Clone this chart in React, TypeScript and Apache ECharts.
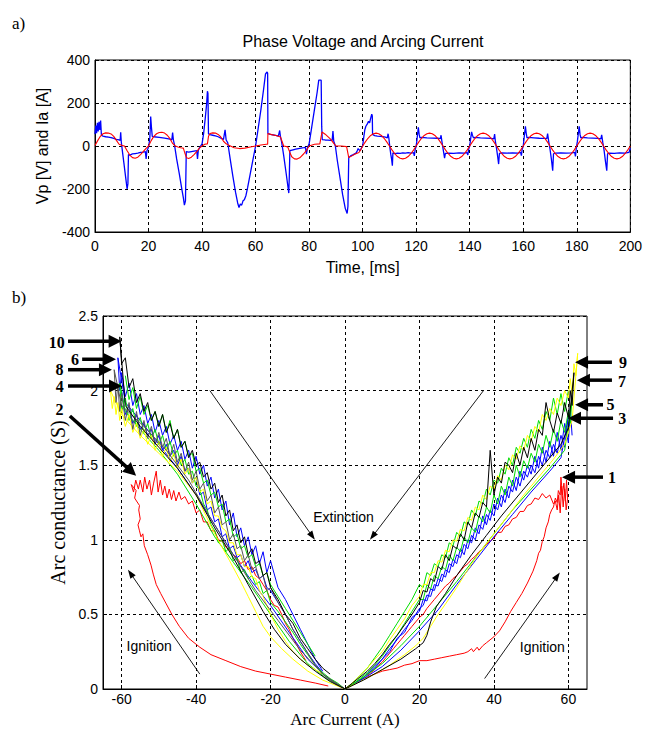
import React, { useEffect, useRef } from "react";
import * as echarts from "echarts";

// ---------------- Panel a) : phase voltage (blue) and arcing current (red) ----------------
const VOLTAGE: number[][] = [
  [0,55],[0.3,95],[0.6,60],[0.9,108],[1.2,68],[1.5,112],[1.8,75],[2.1,118],[2.4,50],[3,46],[4,43],[5,41],[6,39],[7,35],[8,31],[9,28],[9.4,26],[9.6,64],[9.8,22],[10.2,-20],[10.8,-80],[11.4,-140],[12,-200],[12.3,-175],[12.5,-40],[13,-42],[14,-37],[15,-35],[16,-33],[17,-30],[18,-28],[18.8,-26],[19.1,-60],[19.4,-22],[19.8,-12],
  [20.2,10],[20.5,40],[20.8,137],[21.1,85],[21.4,45],[22,43],[24,40],[26,37],[28,32],[28.7,29],[29,62],[29.3,27],[29.7,5],[30.5,-60],[31.5,-130],[32.5,-205],[33,-240],[33.4,-275],[33.8,-255],[34.1,-26],[35,-28],[36,-26],[37,-24],[38,-22],[38.3,-60],[38.6,-20],[39.2,-5],
  [40,10],[40.6,60],[41.2,130],[41.7,195],[42,255],[42.2,245],[42.4,56],[43,53],[44,50],[45,47],[46,43],[47,37],[48,31],[48.6,75],[49,28],[49.6,15],[50.5,-60],[51.5,-140],[52.5,-215],[53.3,-265],[53.8,-286],[54.3,-270],[54.8,-275],[55.3,-255],[55.8,-250],[56.4,-230],[57,-195],[58,-130],[59,-65],[60,0],
  [61,85],[62,170],[63,265],[63.7,335],[64.3,344],[64.5,338],[64.6,58],[65.5,54],[66.5,52],[67.5,49],[68.5,46],[69,72],[69.3,42],[69.7,20],[70.5,-45],[71.5,-135],[72.4,-219],[72.6,-140],[72.8,-22],[74,-18],[75,-15],[76,-12],[77,-10],[78,-8],[78.6,-6],[79,-38],[79.4,-8],
  [80,10],[81,90],[82,170],[83,250],[83.6,306],[84.5,306],[84.7,90],[84.9,30],[86,28],[87,27],[88,26],[88.6,26],[88.9,69],[89.2,22],[89.8,0],[90.5,-65],[91.5,-145],[92.5,-225],[93.5,-290],[94.2,-314],[94.5,-280],[94.8,-54],[95.5,-46],[96.5,-40],[97.5,-33],[97.9,-25],[98.3,-12],[99,-22],[99.6,-8],
  [100,0],[100.4,40],[100.8,75],[101.2,92],[101.8,104],[102.2,115],[102.6,108],[103,130],[103.4,148],[103.6,140],[103.7,54],[104.5,48],[105.5,46],[106.5,45],[107.5,44],[108.5,41],[109.2,38],[109.5,57],[109.8,35],[110.2,-10],[110.5,-38],[110.8,-60],[111.1,-92],[111.3,-32],[112,-35],[113,-33],[114,-34],[115,-32],[116,-33],[117,-31],[118,-33],[119,-31],[119.3,-46],[119.6,-18],
  [120,0],[120.3,30],[120.8,87],[121.1,55],[121.4,38],[122,40],[124,38],[126,37],[128,36],[129,34],[129.3,50],[129.6,22],[130,-10],[130.4,-40],[130.6,-56],[130.9,-34],[132,-33],[134,-34],[136,-32],[138,-33],[139,-31],[139.3,-42],[139.6,-15],
  [140,0],[140.3,30],[140.7,66],[141,50],[141.4,38],[142,40],[144,38],[146,37],[148,35],[149,33],[149.3,55],[149.6,20],[150,-10],[150.4,-45],[150.8,-84],[151.1,-34],[152,-32],[154,-33],[156,-32],[158,-33],[159,-30],[159.3,-45],[159.6,-15],
  [160,0],[160.3,35],[160.8,92],[161.1,60],[161.4,38],[162,40],[164,38],[166,36],[168,35],[168.8,34],[169.1,58],[169.5,22],[170,-15],[170.5,-60],[171,-115],[171.3,-36],[172,-33],[174,-32],[176,-33],[178,-32],[179.2,-30],[179.5,-48],[179.8,-12],
  [180.2,20],[180.5,50],[180.9,92],[181.2,55],[181.5,38],[182,40],[184,38],[186,37],[188,35],[189,33],[189.3,52],[189.7,18],[190.2,-20],[190.7,-70],[191.2,-115],[191.5,-36],[192,-33],[194,-34],[196,-32],[198,-33],[199.5,-30],[200,-10]
];

const CURRENT: number[][] = [
  [0,2],[1,25],[2,45],[3,57],[4,61],[5,60],[6,56],[7,45],[8,26],[9,8],[10,3],[11,0],[12,-22],[13,-42],[14,-54],[15,-57],[16,-52],[17,-40],[18,-26],[19,-12],
  [20,0],[21,25],[22,45],[23,57],[24,63],[25,64],[26,60],[27,50],[28,34],[29,12],[30,0],[31,-5],[32,-8],[33,-10],[33.5,-30],[34.2,-55],[35,-58],[36,-52],[37,-40],[38,-26],[39,-10],
  [40,0],[41,8],[42,10],[42.4,45],[43,58],[44,61],[45,60],[46,54],[47,42],[48,22],[49,10],[50,4],[52,-8],[54,-12],[56,-10],[58,-5],
  [60,0],[62,5],[64,8],[64.5,8],[64.6,58],[66,53],[68,48],[69.3,42],[70.5,0],[72,-4],[72.8,-30],[73.5,-50],[74.5,-60],[75.5,-61],[76.5,-55],[78,-36],[79,-20],
  [80,0],[82,8],[84,10],[84.8,65],[86,55],[88,32],[89.2,12],[90,0],[92,0],[94,-3],[94.8,-54],[96,-46],[97,-38],[98.6,-30],[99.3,-18],
  [100,0],[101,19],[102,36],[103,49],[104,57],[105,60],[106,57],[107,49],[108,36],[109,19],[110,0],[111,-19],[112,-36],[113,-49],[114,-57],[115,-60],[116,-57],[117,-49],[118,-36],[119,-19],
  [120,0],[121,19],[122,36],[123,49],[124,57],[125,60],[126,57],[127,49],[128,36],[129,19],[130,0],[131,-19],[132,-36],[133,-49],[134,-57],[135,-60],[136,-57],[137,-49],[138,-36],[139,-19],
  [140,0],[141,19],[142,36],[143,49],[144,57],[145,60],[146,57],[147,49],[148,36],[149,19],[150,0],[151,-19],[152,-36],[153,-49],[154,-57],[155,-60],[156,-57],[157,-49],[158,-36],[159,-19],
  [160,0],[161,19],[162,36],[163,49],[164,57],[165,60],[166,57],[167,49],[168,36],[169,19],[170,0],[171,-19],[172,-36],[173,-49],[174,-57],[175,-60],[176,-57],[177,-49],[178,-36],[179,-19],
  [180,0],[181,19],[182,36],[183,49],[184,57],[185,60],[186,57],[187,49],[188,36],[189,19],[190,0],[191,-19],[192,-36],[193,-49],[194,-57],[195,-60],[196,-57],[197,-49],[198,-36],[199,-19],[200,0]
];

// ---------------- Panel b) : arc conductance vs arc current ----------------
const BOTTOM_X_TICKS = [-60, -40, -20, 0, 20, 40, 60];

// current grid for the extinction branches (positive half)
const XR = [63,62.5,62,61.5,61,60.5,60,59,58,57,56,55,54,53,52,51,50,49,48,47,46,45,44,43,42,41,40,39,38,37,36,35,34,33,32,31,30,29,28,27,26,25,24,23,22,21,20,18,16,14,12,10,8,6,4,2,0];
// current grid for the extinction branches (negative half)
const XL = [-63,-62.5,-62,-61.5,-61,-60.5,-60,-59,-58,-57,-56,-55,-54,-53,-52,-51,-50,-49,-48,-47,-46,-45,-44,-43,-42,-41,-40,-39,-38,-37,-36,-35,-34,-33,-32,-31,-30,-29,-28,-27,-26,-25,-24,-23,-22,-21,-20,-18,-16,-14,-12,-10,-8,-6,-4,-2,0];

const R_YELLOW = [null,2.25,2.1,2.18,1.98,2.08,1.95,2.0,1.9,1.95,1.84,1.88,1.8,1.84,1.72,1.76,1.66,1.7,1.6,1.63,1.54,1.57,1.47,1.5,1.4,1.43,1.34,1.36,1.27,1.3,1.2,1.22,1.13,1.15,1.06,1.07,0.99,1.0,0.92,0.93,0.85,0.86,0.78,0.78,0.7,0.7,0.62,0.56,0.47,0.4,0.33,0.25,0.2,0.14,0.09,0.04,0];
const R_BLACK = [null,null,null,2.12,1.9,2.0,1.82,1.92,1.78,1.85,1.72,1.8,1.92,1.7,1.74,1.6,1.68,1.55,1.62,1.5,1.58,1.45,1.5,1.52,1.38,1.42,1.3,1.6,1.22,1.25,1.15,1.18,1.08,1.12,1.0,1.04,0.94,0.96,0.86,0.9,0.8,0.82,0.72,0.74,0.65,0.66,0.58,0.5,0.43,0.36,0.3,0.23,0.17,0.12,0.08,0.04,0];
const R_GREEN = [null,null,null,null,1.95,1.78,1.86,1.72,1.8,1.66,1.74,1.62,1.7,1.58,1.64,1.52,1.58,1.48,1.53,1.42,1.5,1.36,1.42,1.3,1.36,1.24,1.3,1.18,1.22,1.12,1.16,1.05,1.08,0.98,1.02,0.92,0.95,0.86,0.9,0.8,0.82,0.74,0.76,0.67,0.7,0.6,0.6,0.52,0.44,0.36,0.29,0.22,0.16,0.11,0.07,0.03,0];
const R_GREEN2 = [null,null,null,null,null,null,2.0,1.86,1.98,1.84,1.95,1.8,1.86,1.74,1.8,1.68,1.74,1.62,1.68,1.58,1.62,1.5,1.55,1.44,1.48,1.38,1.4,1.3,1.34,1.24,1.26,1.16,1.2,1.1,1.12,1.02,1.05,0.96,0.98,0.88,0.9,0.82,0.84,0.76,0.78,0.68,0.7,0.6,0.52,0.44,0.36,0.28,0.21,0.14,0.09,0.04,0];
const R_BLUE = [null,null,null,null,null,null,1.83,1.62,1.7,1.58,1.64,1.55,1.6,1.5,1.56,1.45,1.5,1.42,1.46,1.36,1.42,1.32,1.36,1.25,1.3,1.2,1.24,1.13,1.17,1.07,1.1,1.0,1.03,0.94,0.97,0.88,0.9,0.82,0.84,0.75,0.77,0.69,0.7,0.62,0.63,0.56,0.54,0.46,0.4,0.33,0.27,0.2,0.15,0.1,0.06,0.03,0];
const R_BLUE2 = [null,null,null,null,1.7,1.88,1.65,1.78,1.6,1.72,1.56,1.66,1.52,1.62,1.48,1.56,1.44,1.5,1.4,1.46,1.33,1.4,1.28,1.34,1.22,1.28,1.16,1.2,1.1,1.16,1.04,1.08,0.98,1.0,0.9,0.94,0.84,0.87,0.78,0.8,0.72,0.74,0.66,0.67,0.59,0.6,0.52,0.48,0.38,0.34,0.25,0.2,0.14,0.1,0.05,0.03,0];

const L_BLACK = [null,null,null,null,null,2.36,2.18,2.22,2.02,2.08,1.92,1.98,1.86,1.92,1.8,1.86,1.76,1.84,1.72,1.78,1.68,1.74,1.62,1.66,1.55,1.6,1.5,1.52,1.42,1.45,1.34,1.38,1.25,1.3,1.16,1.2,1.06,1.1,0.98,1.02,0.9,0.94,0.84,0.86,0.76,0.78,0.68,0.6,0.5,0.44,0.34,0.27,0.2,0.14,0.1,null,null];
const L_BLUE = [null,null,null,null,2.22,2.0,2.12,1.96,2.05,1.9,1.98,1.84,1.9,1.78,1.84,1.72,1.8,1.7,1.76,1.64,1.7,1.6,1.66,1.54,1.6,1.48,1.56,1.44,1.5,1.36,1.42,1.28,1.34,1.2,1.26,1.1,1.18,1.02,1.08,0.96,1.02,0.9,0.96,0.84,0.92,0.78,0.86,0.68,0.6,0.5,0.4,0.3,0.2,0.12,null,null,null];
const L_GRAY = [null,null,2.14,1.92,2.04,1.86,1.98,1.8,1.92,1.74,1.86,1.7,1.8,1.68,1.76,1.64,1.72,1.62,1.68,1.56,1.64,1.52,1.58,1.46,1.52,1.4,1.46,1.34,1.38,1.26,1.3,1.18,1.22,1.1,1.12,1.0,1.04,0.94,0.96,0.86,0.9,0.8,0.82,0.74,0.76,0.66,0.68,0.58,0.5,0.4,0.32,0.24,0.16,0.1,0.06,0.03,0];
const L_GREEN = [null,null,null,null,null,2.05,1.86,1.95,1.8,1.88,1.76,1.82,1.72,1.78,1.68,1.74,1.64,1.7,1.6,1.66,1.56,1.6,1.5,1.54,1.44,1.46,1.36,1.34,1.24,1.2,1.1,1.06,0.98,1.0,0.92,0.95,0.86,0.88,0.78,0.8,0.74,0.76,0.7,0.72,0.64,0.66,0.58,0.52,0.45,0.38,0.3,0.23,0.16,0.11,0.07,0.04,0];
const L_GREEN2 = [null,null,null,null,null,null,null,2.1,1.94,2.02,1.88,1.96,1.84,1.9,1.8,1.86,1.76,1.84,1.72,1.8,1.68,1.74,1.62,1.66,1.56,1.58,1.46,1.48,1.38,1.4,1.3,1.32,1.22,1.24,1.12,1.14,1.02,1.04,0.94,0.96,0.88,0.9,0.82,0.84,0.76,0.78,0.7,0.62,0.54,0.46,0.38,0.3,0.22,null,null,null,null];
const L_YELLOW = [2.0,1.88,1.96,1.84,1.92,1.8,1.88,1.76,1.84,1.72,1.78,1.68,1.74,1.64,1.7,1.6,1.66,1.56,1.62,1.52,1.58,1.48,1.54,1.44,1.48,1.38,1.42,1.32,1.34,1.24,1.26,1.16,1.16,1.08,1.06,0.98,0.98,0.9,0.9,0.82,0.82,0.75,0.74,0.66,0.62,0.56,0.5,0.4,0.32,0.25,0.2,0.16,0.13,0.1,null,null,null];
const L_BLUE2 = [null,null,null,null,null,null,2.0,1.84,1.9,1.78,1.84,1.74,1.78,1.7,1.74,1.64,1.7,1.6,1.64,1.56,1.6,1.5,1.56,1.46,1.48,1.38,1.42,1.3,1.32,1.2,1.22,1.12,1.14,1.02,1.04,0.94,0.96,0.88,0.9,0.82,0.86,0.78,0.8,0.74,0.76,0.68,0.66,0.58,0.5,0.4,0.32,0.24,0.17,0.11,null,null,null];

// ignition branches (rising current)
const R_IGN_YELLOW = [[0,0],[4,0.05],[8,0.1],[12,0.16],[16,0.23],[19,0.29],[21,0.34],[23,0.42],[25,0.5],[27,0.57],[30,0.68],[33,0.8],[36,0.91],[40,1.04],[44,1.17],[48,1.3],[52,1.42],[56,1.54],[59,1.64],[61,1.8],[62.5,2.25]];
const R_IGN_BLACK = [[0,0],[5,0.06],[10,0.13],[15,0.2],[19,0.27],[21,0.31],[22,0.36],[23,0.45],[24.5,0.55],[27,0.64],[30,0.76],[34,0.9],[38,1.03],[42,1.16],[46,1.28],[50,1.4],[54,1.52],[58,1.64],[60,1.75],[61.5,2.12]];
const R_IGN_GREEN = [[0,0],[5,0.08],[10,0.17],[15,0.29],[20,0.42],[25,0.57],[30,0.72],[35,0.88],[40,1.04],[45,1.2],[50,1.34],[55,1.48],[59,1.6],[61,1.95]];
const R_IGN_BLUE = [[0,0],[5,0.07],[10,0.15],[15,0.26],[20,0.39],[25,0.53],[30,0.7],[35,0.86],[40,1.02],[45,1.17],[50,1.32],[55,1.46],[58,1.55],[60,1.83]];
const L_IGN_YELLOW = [[0,0],[-3,0.03],[-6,0.06],[-10,0.12],[-14,0.2],[-17,0.27],[-20,0.35],[-22,0.42],[-24,0.52],[-26,0.62],[-28,0.72],[-31,0.86],[-35,1.04],[-40,1.3],[-45,1.46],[-50,1.58],[-55,1.7],[-60,1.84],[-63,2.0]];
const L_IGN_BLACK = [[0,0],[-4,0.05],[-8,0.12],[-12,0.2],[-16,0.3],[-19,0.4],[-22,0.52],[-26,0.7],[-30,0.88],[-35,1.08],[-40,1.3],[-45,1.48],[-50,1.62],[-55,1.76],[-59,1.9],[-60.5,2.36]];
const L_IGN_GREEN = [[0,0],[-5,0.07],[-10,0.17],[-15,0.32],[-20,0.5],[-25,0.68],[-30,0.85],[-35,1.02],[-40,1.24],[-45,1.44],[-50,1.6],[-55,1.74],[-59,1.86],[-60.5,2.05]];
const L_IGN_BLUE = [[0,0],[-5,0.08],[-10,0.2],[-15,0.38],[-20,0.56],[-25,0.72],[-30,0.9],[-35,1.1],[-40,1.3],[-45,1.48],[-50,1.64],[-55,1.8],[-59,1.92],[-61,2.22]];
const L_IGN_GRAY = [[0,0],[-6,0.1],[-12,0.26],[-18,0.46],[-24,0.66],[-30,0.9],[-36,1.14],[-42,1.4],[-48,1.6],[-54,1.76],[-60,1.9],[-62,2.14]];

// first cycle (red): very low ignition, then extinction
const R_RED = [[0,0],[2,0.03],[4,0.06],[6,0.08],[8,0.1],[10,0.12],[12,0.13],[14,0.14],[16,0.16],[18,0.17],[20,0.19],[22,0.19],[24,0.2],[26,0.21],[28,0.22],[30,0.23],[32,0.24],[33,0.25],[34,0.27],[34.5,0.25],[35.5,0.28],[36,0.26],[37,0.29],[38,0.31],[40,0.35],[41.5,0.39],[43,0.45],[44.5,0.52],[46,0.58],[47.5,0.64],[49,0.71],[50.5,0.79],[51.5,0.86],[52,0.91],[52.5,0.93],[53,0.99],[53.5,1.02],[54,1.08],[54.6,1.12],[55,1.17],[55.5,1.2],[56,1.22],[56.5,1.28],[57,1.25],[57.3,1.33],[57.8,1.3],[58,1.42],[58.4,1.3],[58.8,1.38],[59.2,1.26],[59.5,1.4],[59.8,1.28],[59.4,1.2],[59,1.34],[58.6,1.22],[58.2,1.36],[57.8,1.18],[57.4,1.3],[57,1.2],[56.5,1.26],[56,1.24],[55,1.3],[54,1.28],[53,1.31],[52,1.27],[51,1.28],[50,1.24],[49,1.23],[48,1.19],[47,1.19],[46,1.15],[45,1.14],[44,1.1],[43,1.09],[42,1.05],[41,1.05],[40,1.01],[39,0.99],[38,0.97],[37,0.94],[36,0.92],[35,0.89],[34,0.87],[33,0.84],[32,0.82],[31,0.79],[30,0.76],[29,0.74],[28,0.71],[27,0.69],[26,0.66],[25,0.63],[24,0.6],[23,0.57],[22,0.54],[21,0.5],[20,0.48],[19,0.45],[18,0.42],[17,0.39],[16,0.36],[15,0.33],[14,0.3],[13,0.27],[12,0.24],[11,0.21],[10,0.18],[9,0.16],[8,0.13],[7,0.11],[6,0.09]];
const L_RED = [[-4.5,0.02],[-8,0.04],[-12,0.06],[-16,0.08],[-20,0.1],[-24,0.12],[-28,0.15],[-32,0.19],[-36,0.23],[-39,0.28],[-42,0.34],[-44.5,0.42],[-46.5,0.5],[-48,0.57],[-49.5,0.64],[-50.7,0.7],[-51.5,0.77],[-52.1,0.83],[-53,0.9],[-53.9,0.96],[-54.3,1.04],[-54.8,1.02],[-55.2,1.06],[-55.6,1.1],[-55,1.14],[-55.4,1.2],[-55.2,1.23],[-56,1.26],[-56.5,1.28],[-56.1,1.33],[-57.4,1.37],[-56.8,1.32],[-56.2,1.4],[-55.5,1.34],[-55,1.4],[-54.3,1.32],[-53.8,1.42],[-53.2,1.34],[-52.5,1.4],[-52,1.3],[-51.4,1.38],[-50.7,1.46],[-50.2,1.32],[-49.6,1.4],[-49,1.3],[-48.4,1.36],[-47.8,1.28],[-47.2,1.34],[-46.6,1.27],[-46,1.33],[-45.4,1.26],[-44.6,1.32],[-44,1.27],[-43,1.29],[-42,1.24],[-41,1.26],[-40,1.18],[-39,1.2],[-38,1.12],[-37,1.12],[-36,1.06],[-35,1.06],[-34,1.0],[-33,0.99],[-32,0.95],[-31,0.93],[-30,0.9],[-29,0.88],[-28,0.84],[-27,0.86],[-26,0.8],[-25,0.82],[-24,0.76],[-23,0.74],[-22,0.7],[-21,0.66],[-20,0.6],[-19,0.56],[-18,0.55],[-17,0.5],[-16,0.44],[-15,0.4],[-14,0.34],[-13,0.3],[-12,0.25],[-11,0.21],[-10.5,0.19]];

// numbered cycle markers: [label, textX, textY, tailX, tailY, tipX, tipY] in data units
const CYCLE_MARKS: (string | number)[][] = [
  ["10", -77.4, 2.32, -74.4, 2.33, -60.0, 2.33],
  ["6", -72.5, 2.21, -70.6, 2.21, -61.5, 2.21],
  ["8", -76.7, 2.14, -74.4, 2.14, -62.6, 2.14],
  ["4", -76.6, 2.03, -74.4, 2.03, -59.9, 2.03],
  ["2", -76.7, 1.87, -73.9, 1.83, -56.1, 1.43],
  ["9", 74.7, 2.19, 71.7, 2.19, 61.8, 2.19],
  ["7", 74.4, 2.06, 71.7, 2.07, 62.3, 2.07],
  ["5", 71.3, 1.905, 69.3, 1.905, 61.8, 1.905],
  ["3", 74.5, 1.81, 72.0, 1.815, 59.9, 1.815],
  ["1", 71.7, 1.42, 69.3, 1.42, 58.3, 1.42],
];
// thin arrows: [tailX, tailY, headX, headY]
const THIN_ARROWS = [
  [-36.3, 2.0, -8.1, 1.0],
  [37.2, 2.0, 6.7, 1.0],
  [-39.0, 0.1, -58.3, 0.8],
  [37.5, 0.07, 57.7, 0.78],
];
// annotation words: [text, x, y]
const NOTES: (string | number)[][] = [
  ["Extinction", -0.4, 1.155],
  ["Ignition", -52.6, 0.29],
  ["Ignition", 53.0, 0.284],
];

const SANS = '"Liberation Sans", Arial, sans-serif';
const SERIF = '"Liberation Serif", "Times New Roman", serif';

function trace(ign: number[][] | null, xs: number[], ys: (number | null)[]) {
  const out: number[][] = ign ? ign.slice() : [];
  xs.forEach((x, i) => {
    const y = ys[i];
    if (y !== null && y !== undefined) out.push([x, y]);
  });
  return out;
}

function bLine(data: number[][], color: string) {
  return {
    type: "line",
    xAxisIndex: 1,
    yAxisIndex: 1,
    data,
    symbol: "none",
    showSymbol: false,
    silent: true,
    lineStyle: { color, width: 1 },
    itemStyle: { color },
    z: 3,
  };
}

export default function App() {
  const ref = useRef<HTMLDivElement>(null);

  useEffect(() => {
    document.body.style.margin = "0";
    const chart = echarts.init(ref.current as HTMLDivElement, null, { renderer: "svg" });

    const dashed = { show: true, lineStyle: { color: "#000", type: [3, 3], width: 1 } };
    const axisLine = { show: true, onZero: false, lineStyle: { color: "#000", width: 1 } };

    const option: any = {
      animation: false,
      backgroundColor: "#fff",
      grid: [
        { left: 95, top: 60, width: 537, height: 172, show: true, borderColor: "#000", borderWidth: 1, backgroundColor: "transparent" },
        { left: 103, top: 316, width: 484, height: 376, show: true, borderColor: "#000", borderWidth: 1, backgroundColor: "transparent" },
      ],
      xAxis: [
        {
          type: "value", gridIndex: 0, min: 0, max: 200, interval: 20,
          axisLine, axisTick: { show: true, inside: true, length: 4, lineStyle: { color: "#000" } },
          axisLabel: { color: "#000", fontSize: 14, fontFamily: SANS, margin: 7 },
          splitLine: dashed,
          name: "Time, [ms]", nameLocation: "middle", nameGap: 27,
          nameTextStyle: { color: "#000", fontSize: 16, fontFamily: SANS },
        },
        {
          type: "value", gridIndex: 1, min: -65, max: 65,
          axisLine,
          axisTick: { show: true, inside: true, length: 4, customValues: BOTTOM_X_TICKS, lineStyle: { color: "#000" } },
          axisLabel: { color: "#000", fontSize: 14, fontFamily: SANS, margin: 3, customValues: BOTTOM_X_TICKS },
          splitLine: { show: false },
          name: "Arc Current (A)", nameLocation: "middle", nameGap: 22,
          nameTextStyle: { color: "#000", fontSize: 17, fontFamily: SERIF },
        },
      ],
      yAxis: [
        {
          type: "value", gridIndex: 0, min: -400, max: 400, interval: 200,
          axisLine, axisTick: { show: true, inside: true, length: 4, lineStyle: { color: "#000" } },
          axisLabel: { color: "#000", fontSize: 14, fontFamily: SANS, margin: 5 },
          splitLine: dashed,
          name: "Vp [V] and Ia [A]", nameLocation: "middle", nameGap: 45,
          nameTextStyle: { color: "#000", fontSize: 16, fontFamily: SANS },
        },
        {
          type: "value", gridIndex: 1, min: 0, max: 2.5, interval: 0.5,
          axisLine, axisTick: { show: true, inside: true, length: 4, lineStyle: { color: "#000" } },
          axisLabel: { color: "#000", fontSize: 14, fontFamily: SANS, margin: 5 },
          splitLine: dashed,
          name: "Arc conductance (S)", nameLocation: "middle", nameGap: 34,
          nameTextStyle: { color: "#000", fontSize: 20, fontFamily: SERIF },
        },
      ],
      series: [
        {
          type: "line", xAxisIndex: 0, yAxisIndex: 0, data: VOLTAGE, symbol: "none", showSymbol: false, silent: true,
          lineStyle: { color: "#0000ff", width: 1.3 }, itemStyle: { color: "#0000ff" }, z: 3,
        },
        {
          type: "line", xAxisIndex: 0, yAxisIndex: 0, data: CURRENT, symbol: "none", showSymbol: false, silent: true,
          lineStyle: { color: "#ff0000", width: 1.1 }, itemStyle: { color: "#ff0000" }, z: 4,
        },
        {
          type: "line", xAxisIndex: 1, yAxisIndex: 1, data: [[-65, 0]], symbol: "none", showSymbol: false, silent: true,
          lineStyle: { opacity: 0 },
          markLine: {
            silent: true, symbol: ["none", "none"], label: { show: false }, z: 1,
            lineStyle: { color: "#000", type: [3, 3], width: 1 },
            emphasis: { disabled: true },
            data: BOTTOM_X_TICKS.map((v) => ({ xAxis: v })),
          },
        },
        bLine(L_RED, "#ff0000"),
        bLine(R_RED, "#ff0000"),
        bLine(trace(L_IGN_BLUE, XL, L_BLUE), "#0000ff"),
        bLine(trace(null, XL, L_BLUE2), "#0000ff"),
        bLine(trace(R_IGN_BLUE, XR, R_BLUE), "#0000ff"),
        bLine(trace(null, XR, R_BLUE2), "#0000ff"),
        bLine(trace(L_IGN_GREEN, XL, L_GREEN), "#00dd00"),
        bLine(trace(null, XL, L_GREEN2), "#00dd00"),
        bLine(trace(R_IGN_GREEN, XR, R_GREEN), "#00dd00"),
        bLine(trace(null, XR, R_GREEN2), "#00dd00"),
        bLine(trace(L_IGN_YELLOW, XL, L_YELLOW), "#ffff00"),
        bLine(trace(R_IGN_YELLOW, XR, R_YELLOW), "#ffff00"),
        bLine(trace(L_IGN_GRAY, XL, L_GRAY), "#555555"),
        bLine(trace(L_IGN_BLACK, XL, L_BLACK), "#000000"),
        bLine(trace(R_IGN_BLACK, XR, R_BLACK), "#000000"),
      ],
    };
    chart.setOption(option);

    const P = (x: number, y: number) => chart.convertToPixel({ gridIndex: 1 } as any, [x, y]) as number[];
    const elements: any[] = [];

    const arrow = (a: number[], b: number[], lw: number, hl: number, hw: number) => {
      const dx = b[0] - a[0];
      const dy = b[1] - a[1];
      const len = Math.sqrt(dx * dx + dy * dy);
      const ux = dx / len;
      const uy = dy / len;
      const bx = b[0] - ux * hl;
      const by = b[1] - uy * hl;
      elements.push({
        type: "line", silent: true, z: 100,
        shape: { x1: a[0], y1: a[1], x2: bx + ux * 1, y2: by + uy * 1 },
        style: { stroke: "#000", lineWidth: lw },
      });
      elements.push({
        type: "polygon", silent: true, z: 100,
        shape: { points: [[b[0], b[1]], [bx - uy * hw, by + ux * hw], [bx + uy * hw, by - ux * hw]] },
        style: { fill: "#000" },
      });
    };

    CYCLE_MARKS.forEach((m) => {
      const t = P(m[1] as number, m[2] as number);
      elements.push({
        type: "text", x: t[0], y: t[1], silent: true, z: 101,
        style: {
          text: m[0] as string, fill: "#000", font: `bold 16px ${SERIF}`,
          align: "center", verticalAlign: "middle", textAlign: "center", textVerticalAlign: "middle",
        },
      });
      arrow(P(m[3] as number, m[4] as number), P(m[5] as number, m[6] as number), 3.5, 13, 6.5);
    });

    THIN_ARROWS.forEach((a) => {
      arrow(P(a[0], a[1]), P(a[2], a[3]), 0.9, 9, 3.2);
    });

    NOTES.forEach((n) => {
      const t = P(n[1] as number, n[2] as number);
      elements.push({
        type: "text", x: t[0], y: t[1], silent: true, z: 101,
        style: {
          text: n[0] as string, fill: "#000", font: `14px ${SANS}`,
          align: "center", verticalAlign: "middle", textAlign: "center", textVerticalAlign: "middle",
        },
      });
    });

    elements.push({
      type: "text", x: 363, y: 41, silent: true,
      style: { text: "Phase Voltage and Arcing Current", fill: "#000", font: `16px ${SANS}`, align: "center", verticalAlign: "middle", textAlign: "center", textVerticalAlign: "middle" },
    });
    elements.push({
      type: "text", x: 12, y: 23, silent: true,
      style: { text: "a)", fill: "#000", font: `17px ${SERIF}`, align: "left", verticalAlign: "middle", textAlign: "left", textVerticalAlign: "middle" },
    });
    elements.push({
      type: "text", x: 12, y: 297, silent: true,
      style: { text: "b)", fill: "#000", font: `17px ${SERIF}`, align: "left", verticalAlign: "middle", textAlign: "left", textVerticalAlign: "middle" },
    });

    chart.setOption({ graphic: { elements } });

    return () => {
      chart.dispose();
    };
  }, []);

  return <div ref={ref} style={{ width: 645, height: 733 }} />;
}
